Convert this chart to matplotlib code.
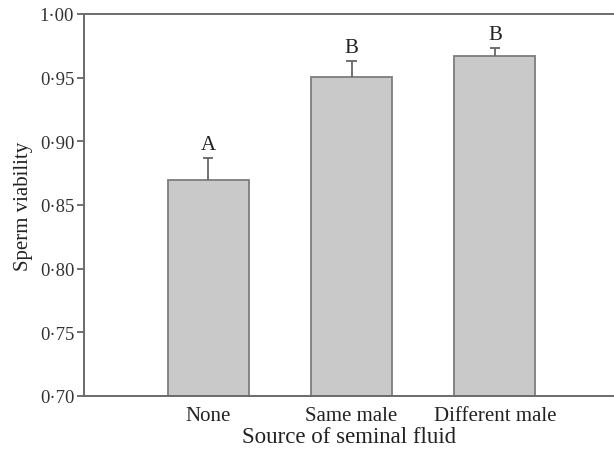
import numpy as np
import matplotlib.pyplot as plt

# sperm viability by source of seminal fluid
groups = ["None", "Same male", "Different male"]
viability = [0.8695, 0.9504, 0.9669]
se = [0.0173, 0.0126, 0.0063]
letters = ["A", "B", "B"]
yticks = [0.70, 0.75, 0.80, 0.85, 0.90, 0.95, 1.00]

plt.rcParams['font.family'] = ['Liberation Serif', 'DejaVu Serif']

fig = plt.figure(figsize=(6.14, 4.56), dpi=100)
ax = fig.add_axes([84/614, 1 - 397/456, 530/614, 382/456])

x = np.arange(len(groups))
tops = np.array(viability) + np.array(se)
ax.bar(x, viability, width=0.565, color="#c9c9c9", edgecolor="#7d7d7d", linewidth=1.3, zorder=2)
# upper error bars only
ax.vlines(x, viability, tops, color="#666666", linewidth=1.3, zorder=3)
ax.hlines(tops, x - 0.035, x + 0.035, color="#666666", linewidth=1.3, zorder=3)

for xi, t, lab in zip(x, tops, letters):
    ax.text(xi, t + 0.0072, lab, ha="center", va="baseline", fontsize=15, color="#222222")

ax.set_xlim(-0.865, 2.83)
ax.set_ylim(0.70, 1.00)
ax.set_yticks(yticks)
ax.set_yticklabels([("%.2f" % t).replace(".", "\u00b7") for t in yticks])
ax.set_xticks(x)
ax.set_xticklabels(groups)
ax.tick_params(axis="x", length=0, pad=7, labelsize=15, colors="#222222")
ax.tick_params(axis="y", length=5, width=1.3, direction="out", pad=2, labelsize=13.5,
               color="#666666", labelcolor="#333333")

ax.spines["right"].set_visible(False)
for s in ["left", "bottom", "top"]:
    ax.spines[s].set_color("#6a6a6a")
    ax.spines[s].set_linewidth(1.4)

ax.set_ylabel("Sperm viability", fontsize=15, color="#222222", labelpad=5)
ax.set_xlabel("Source of seminal fluid", fontsize=16.5, color="#222222", labelpad=1)

fig.savefig("out.png", dpi=100)
